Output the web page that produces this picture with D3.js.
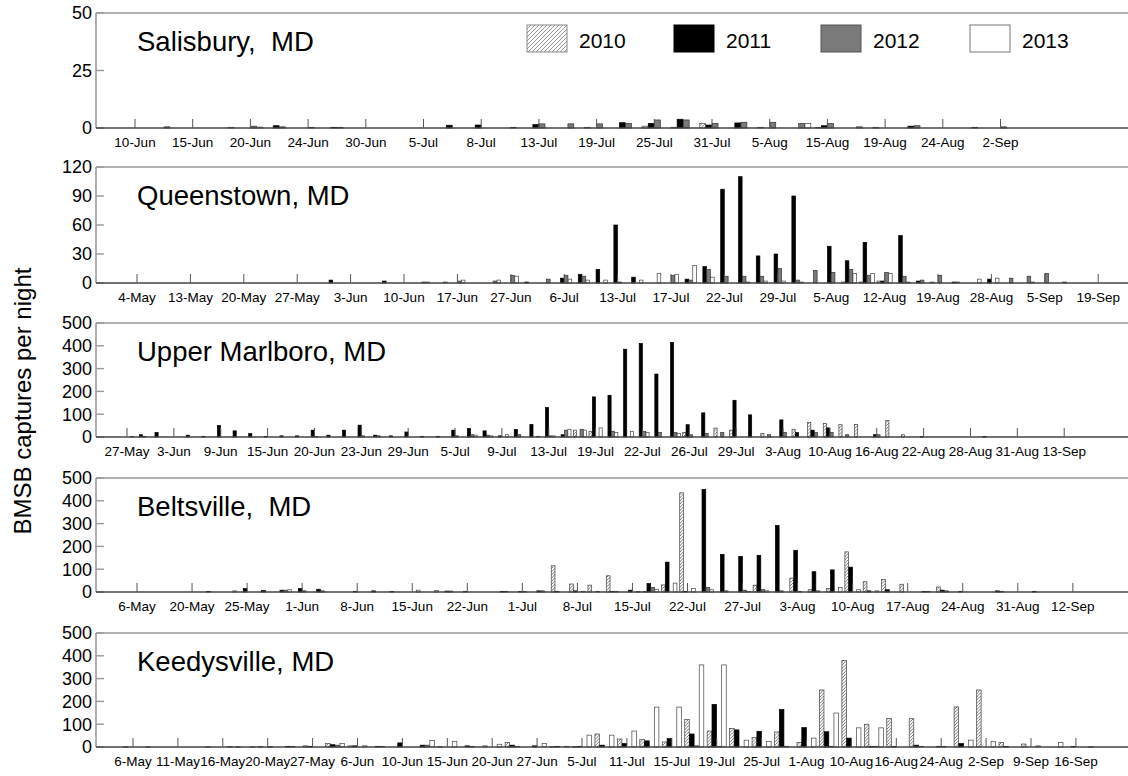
<!DOCTYPE html>
<html><head><meta charset="utf-8">
<script src="https://cdn.jsdelivr.net/npm/d3@7"></script>
<style>body{margin:0;background:#fff} svg text{font-family:"Liberation Sans",Arial,Helvetica,sans-serif;fill:#000}</style>
</head><body><svg id="c" width="1128" height="776"></svg>
<script>
const years = ["2010","2011","2012","2013"];

// Salisbury, MD (label every 2 categories)
const salLabels = ["10-Jun","15-Jun","20-Jun","24-Jun","30-Jun","5-Jul","8-Jul","13-Jul","19-Jul","25-Jul","31-Jul","5-Aug","15-Aug","19-Aug","24-Aug","2-Sep"];
const sal2010 = [0,0,0,0,0, 0,0,0,0,0, 0,0,0,0,0, 0,0.3,0,0.8,0.3, 2,0,0.3,0,0.3, 0,0.3,0,0,0, 0,0,0,0,0];
const sal2011 = [0,0,0,0,0, 1,0,0.3,0,0, 0,1.2,1.3,0,1.5, 0,0,2.3,2,3.8, 1.3,2.2,0,0,1, 0,0,0.8,0,0, 0,0,0,0,0];
const sal2012 = [0,0.5,0,0,0.8, 0.5,0.3,0.3,0,0, 0,0,0,0.3,1.8, 1.8,1.8,2,3.5,3.5, 2,2.5,2.5,2,2, 0.5,0,1,0,0.3, 0.5,0,0,0,0];
const sal2013 = [0,0,0,0.3,0.4, 0,0,0,0,0, 0,0,0,0,0, 0,0,0,0,0, 0,0,0,2,0, 0,0,0,0,0, 0,0,0,0,0];

// Queenstown, MD (label every 3 categories)
const queLabels = ["4-May","13-May","20-May","27-May","3-Jun","10-Jun","17-Jun","27-Jun","6-Jul","13-Jul","17-Jul","22-Jul","29-Jul","5-Aug","12-Aug","19-Aug","28-Aug","5-Sep","19-Sep"];
const que2010 = [0,0,0,0,0,0,0,0,0,0, 0,0,0,0,0,0,0,0,0,0, 0,0,0,0,0,0,0,0,0,0, 0,0,0,0,0,0,0,0,0,0, 1,1,2,0,0,1,0,0,0,0, 0,0,0,0,0,0];
const que2011 = [0,0,0,0,0,0,0,0,0,0, 0,3,0,0,2,0,0,0,0,0, 0,0,1,0,5,9,14,60,6,0, 0,4,17,97,110,28,30,90,0,38, 23,42,2,49,2,0,1,0,4,0, 0,0,0,0,0,0];
const que2012 = [0,0,0,0,0,0,0,0,0,0, 0,0,0,0,0,0,1,0,2,0, 2,8,0,4,8,7,0,1,0,0, 8,3,14,7,7,7,15,3,13,11, 14,8,11,7,3,8,1,0,0,5, 7,10,1,0,0,0];
const que2013 = [0,0,0,0,0,0,0,0,0,0, 0,0,0,0,0,0,1,1,3,0, 3,7,0,0,4,3,3,0,3,10, 9,18,6,0,1,2,2,1,0,0, 10,10,10,1,0,0,0,4,5,0, 1,0,0,0,0,0];

// Upper Marlboro, MD (label every 3 categories)
const uppLabels = ["27-May","3-Jun","9-Jun","15-Jun","20-Jun","23-Jun","29-Jun","5-Jul","9-Jul","13-Jul","19-Jul","22-Jul","26-Jul","29-Jul","3-Aug","10-Aug","16-Aug","22-Aug","28-Aug","31-Aug","13-Sep"];
const upp2010 = [0,0,0,0,0,0,0,0,0,0, 0,0,0,0,0,0,0,0,0,0, 0,0,0,0,0,0,0,0,0,30, 25,0,0,0,0,0,20,0,39,30, 0,15,0,34,63,60,54,55,0,72, 10,0,0,0,0,0,0,0,0,0, 0,0,0,0];
const upp2011 = [0,10,20,0,8,3,50,27,15,3, 5,5,30,8,30,52,8,5,22,3, 3,30,37,27,5,33,55,129,10,0, 176,183,385,410,276,415,54,106,0,161, 97,0,75,20,30,40,0,0,10,0, 0,2,0,0,0,2,0,0,0,0, 0,0,0,0];
const upp2012 = [0,3,0,0,0,0,0,0,0,0, 0,0,3,0,0,5,5,0,0,0, 0,5,10,8,0,10,0,5,30,34, 0,25,0,25,20,20,10,15,20,0, 0,10,20,0,20,20,10,0,10,0, 0,0,0,0,0,0,0,0,0,0, 0,0,0,0];
const upp2013 = [3,0,0,0,0,0,0,0,0,0, 0,0,0,0,0,0,0,0,0,0, 0,0,8,5,10,0,3,5,34,30, 40,20,25,20,0,15,0,0,0,0, 0,0,0,0,0,0,0,0,0,0, 0,0,0,0,0,0,0,0,0,0, 0,0,0,0];

// Beltsville, MD (label every 3 categories)
const belLabels = ["6-May","20-May","25-May","1-Jun","8-Jun","15-Jun","22-Jun","1-Jul","8-Jul","15-Jul","22-Jul","27-Jul","3-Aug","10-Aug","17-Aug","24-Aug","31-Aug","12-Sep"];
const bel2010 = [0,0,0,0,0,0,0,0,0,0, 0,0,0,0,0,0,0,0,0,0, 0,0,0,115,35,30,71,0,2,31, 435,0,0,0,30,0,61,10,15,176, 45,55,34,0,22,0,0,0,0,0, 0,0,0,0,0,0,0];
const bel2011 = [0,0,0,0,3,0,15,6,8,15, 12,0,3,5,3,0,0,4,3,0, 3,3,5,3,5,0,3,8,37,131, 3,450,165,156,161,292,183,89,97,109, 5,10,0,3,8,3,0,5,0,3, 0,0,0,0,0,0,0];
const bel2012 = [0,0,0,0,0,0,0,0,8,5, 5,0,0,0,0,0,0,4,0,0, 3,3,5,0,0,3,3,0,20,0, 0,20,5,8,10,5,3,5,0,0, 0,0,0,3,5,0,0,3,0,0, 0,0,0,0,0,0,0];
const bel2013 = [0,0,0,0,0,5,0,0,10,0, 0,0,0,0,0,8,6,0,0,0, 0,0,0,0,3,0,0,2,12,39, 15,10,0,3,5,0,0,0,20,10, 5,0,0,0,0,0,0,0,0,0, 0,0,0,0,0,0,0];

// Keedysville, MD (label every 2 categories)
const keeLabels = ["6-May","11-May","16-May","20-May","27-May","6-Jun","10-Jun","15-Jun","20-Jun","27-Jun","5-Jul","11-Jul","15-Jul","19-Jul","25-Jul","1-Aug","10-Aug","16-Aug","24-Aug","2-Sep","9-Sep","16-Sep"];
const kee2010 = [1,1,0,0,0,1,2,0,5,15, 5,0,0,0,2,0,5,20,0,2, 2,57,35,33,22,120,70,81,42,66, 20,250,380,100,125,124,0,176,250,20, 13,0,0,1,0];
const kee2011 = [0,0,0,0,0,0,0,3,3,10, 5,3,18,8,0,5,0,8,5,3, 3,8,15,27,37,57,187,75,69,164, 85,67,39,3,3,8,3,15,0,3, 0,0,3,0,0];
const kee2012 = [0,0,0,0,0,0,2,3,0,8, 0,3,0,8,0,3,0,3,0,0, 0,0,0,0,0,5,3,0,0,3, 0,3,0,3,0,3,3,0,0,0, 0,0,0,0,0];
const kee2013 = [0,0,0,1,2,1,0,0,0,15, 5,0,0,29,25,0,12,0,15,3, 52,52,70,175,175,360,360,30,25,0, 39,149,84,84,0,0,0,30,25,0, 5,20,0,0,0];

const panels = [
  {title:"Salisbury,  MD", labels:salLabels, k:2, series:[sal2010,sal2011,sal2012,sal2013], top:13, base:128, firstX:135, w:28.85, ymax:50, ystep:25},
  {title:"Queenstown, MD", labels:queLabels, k:3, series:[que2010,que2011,que2012,que2013], top:167, base:283, firstX:137, w:17.8, ymax:120, ystep:30},
  {title:"Upper Marlboro, MD", labels:uppLabels, k:3, series:[upp2010,upp2011,upp2012,upp2013], top:323, base:437, firstX:127, w:15.62, ymax:500, ystep:100},
  {title:"Beltsville,  MD", labels:belLabels, k:3, series:[bel2010,bel2011,bel2012,bel2013], top:478, base:592, firstX:137, w:18.35, ymax:500, ystep:100},
  {title:"Keedysville, MD", labels:keeLabels, k:2, series:[kee2010,kee2011,kee2012,kee2013], top:633, base:747, firstX:133, w:22.45, ymax:500, ystep:100}
];

const svg = d3.select("#c");
const defs = svg.append("defs");
function hatch(id, size, color, sw){
  const p = defs.append("pattern").attr("id",id).attr("patternUnits","userSpaceOnUse")
    .attr("width",size).attr("height",size);
  p.append("rect").attr("width",size).attr("height",size).attr("fill","#fff");
  p.append("path").attr("d",`M0,${size} L${size},0 M${-size/2},${size/2} L${size/2},${-size/2} M${size/2},${size*1.5} L${size*1.5},${size/2}`)
    .attr("stroke",color).attr("stroke-width",sw);
}
hatch("hatch",3.2,"#555",0.8);
hatch("hatchL",4,"#999",1);
defs.append("clipPath").attr("id","clipAll").append("rect").attr("x",96).attr("y",0).attr("width",1032).attr("height",776);

const fills = ["url(#hatch)","#000","#7a7a7a","#fff"];
const strokes = ["#444","#000","#333","#444"];
const plotL = 96, plotR = 1128;

panels.forEach(p => {
  const N = p.series[0].length;
  const g = svg.append("g");
  const x = d3.scaleBand().domain(d3.range(N))
      .range([p.firstX - p.w/2, p.firstX - p.w/2 + N*p.w]).paddingInner(0).paddingOuter(0);
  const inner = d3.scaleBand().domain(years).range([0, x.bandwidth()]).paddingOuter(0.35).paddingInner(0.06);
  const y = d3.scaleLinear().domain([0, p.ymax]).range([p.base, p.top]);

  // frame
  g.append("line").attr("x1",plotL).attr("x2",plotR).attr("y1",p.top).attr("y2",p.top).attr("stroke","#9a9a9a").attr("stroke-width",1.6);
  g.append("line").attr("x1",plotL).attr("x2",plotL).attr("y1",p.top).attr("y2",p.base).attr("stroke","#9a9a9a").attr("stroke-width",1.6);

  // y axis ticks and labels
  const yt = d3.range(0, p.ymax + 1e-9, p.ystep);
  g.selectAll(".yt").data(yt).join("line").attr("x1",plotL).attr("x2",plotL+8)
    .attr("y1",d=>y(d)).attr("y2",d=>y(d)).attr("stroke","#9a9a9a").attr("stroke-width",1.4);
  g.selectAll(".yl").data(yt).join("text").attr("x",plotL-4).attr("y",d=>y(d)).attr("dy","0.36em")
    .attr("text-anchor","end").attr("font-size",18).text(d=>d);

  // bars
  const bars = [];
  p.series.forEach((arr, j) => arr.forEach((v, i) => { if (v > 0) bars.push({i, j, v}); }));
  g.append("g").attr("clip-path","url(#clipAll)").selectAll("rect").data(bars).join("rect")
    .attr("x", d => x(d.i) + inner(years[d.j]))
    .attr("width", inner.bandwidth())
    .attr("y", d => y(d.v))
    .attr("height", d => Math.max(0.6, p.base - y(d.v)))
    .attr("fill", d => fills[d.j])
    .attr("stroke", d => strokes[d.j]).attr("stroke-width", 0.7);

  // baseline
  g.append("line").attr("x1",plotL).attr("x2",plotR).attr("y1",p.base).attr("y2",p.base).attr("stroke","#444").attr("stroke-width",1.4);

  // x ticks + labels
  const lab = p.labels.map((t, n) => ({t, i: n * p.k}));
  g.selectAll(".xt").data(lab).join("line")
    .attr("x1", d => x(d.i) + x.bandwidth()/2).attr("x2", d => x(d.i) + x.bandwidth()/2)
    .attr("y1", p.base).attr("y2", p.base - 9).attr("stroke","#555").attr("stroke-width",1);
  g.selectAll(".xl").data(lab).join("text")
    .attr("x", d => x(d.i) + x.bandwidth()/2).attr("y", p.base + 14)
    .attr("dy","0.35em").attr("text-anchor","middle").attr("font-size",13.5).text(d => d.t);

  // title
  g.append("text").attr("x",137).attr("y",p.top + 38).attr("font-size",27.5)
    .style("white-space","pre").text(p.title);
});

// legend
const lg = svg.append("g");
const legX = [527, 674, 821, 970];
const legFill = ["url(#hatchL)","#000","#7a7a7a","#fff"];
const legStroke = ["#888","#000","#555","#777"];
years.forEach((yr, j) => {
  lg.append("rect").attr("x",legX[j]).attr("y",25).attr("width",40).attr("height",27)
    .attr("fill",legFill[j]).attr("stroke",legStroke[j]).attr("stroke-width",1);
  lg.append("text").attr("x",legX[j]+52).attr("y",48).attr("font-size",21).text(yr);
});

// y axis title
svg.append("text").attr("transform","translate(31,401) rotate(-90)")
  .attr("text-anchor","middle").attr("font-size",24).text("BMSB captures per night");
</script>
</body></html>
